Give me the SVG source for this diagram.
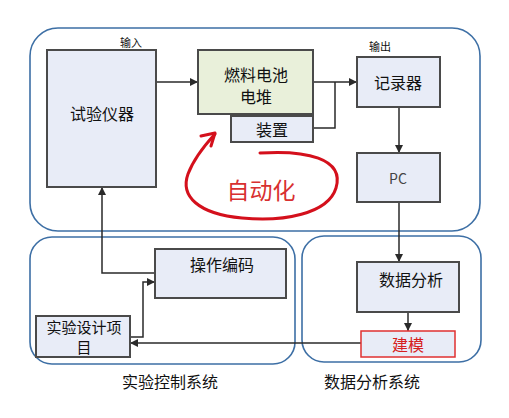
<svg xmlns="http://www.w3.org/2000/svg" width="509" height="418" viewBox="0 0 509 418">
<defs>
<style>
.cont{fill:none;stroke:#3d6fa5;stroke-width:1.6}
.box{fill:#e8ecf7;stroke:#4a4a4a;stroke-width:2}
.t{font-family:"Noto Sans CJK SC","Liberation Sans",sans-serif;fill:#111;text-anchor:middle;dominant-baseline:central}
.c{fill:none;stroke:#2a2a2a;stroke-width:1.5}
</style>
<marker id="ah" viewBox="0 0 10 10" refX="10" refY="5" markerWidth="8" markerHeight="8" markerUnits="userSpaceOnUse" orient="auto">
<path d="M0,0 L10,5 L0,10 z" fill="#2a2a2a"/>
</marker>
</defs>
<rect width="509" height="418" fill="#fff"/>
<g id="containers">
<rect id="top-system" class="cont" x="30" y="28" width="450" height="203" rx="28"/>
<rect id="control-system" class="cont" x="30" y="237" width="265" height="127" rx="22"/>
<rect id="analysis-system" class="cont" x="302" y="236" width="179" height="126" rx="22"/>
</g>
<g id="connectors">
<line class="c" x1="156" y1="82" x2="198" y2="82" marker-end="url(#ah)"/>
<line class="c" x1="313" y1="82" x2="357" y2="82" marker-end="url(#ah)"/>
<polyline class="c" points="313,128 335,128 335,82"/>
<line class="c" x1="399" y1="107" x2="399" y2="153" marker-end="url(#ah)"/>
<line class="c" x1="399" y1="202" x2="399" y2="262" marker-end="url(#ah)"/>
<line class="c" x1="408" y1="312" x2="408" y2="331" stroke-width="2.5" marker-end="url(#ah)"/>
<polyline class="c" points="155,273 102,273 102,187" marker-end="url(#ah)"/>
<polyline class="c" points="130,337 143,337 143,282 155,282" marker-end="url(#ah)"/>
<line class="c" x1="361" y1="343" x2="130" y2="343" stroke-width="2" marker-end="url(#ah)"/>
</g>
<g id="instrument"><rect class="box" x="47" y="50" width="109" height="137"/><text class="t" x="102" y="113" font-size="16">试验仪器</text></g>
<g id="fuelcell"><rect class="box" x="198" y="50" width="115" height="64" style="fill:#e9f0da"/><text class="t" x="256" y="74" font-size="16">燃料电池</text><text class="t" x="256" y="96" font-size="16">电堆</text></g>
<g id="device"><rect class="box" x="231" y="116" width="82" height="26"/><text class="t" x="272" y="129" font-size="16">装置</text></g>
<g id="recorder"><rect class="box" x="357" y="57" width="83" height="50"/><text class="t" x="398" y="82" font-size="16">记录器</text></g>
<g id="pc"><rect class="box" x="357" y="153" width="83" height="49"/><text class="t" x="398" y="178" font-size="14" style="fill:#444">PC</text></g>
<g id="analysis"><rect class="box" x="357" y="262" width="102" height="50"/><text class="t" x="411" y="279" font-size="16">数据分析</text></g>
<g id="modeling"><rect class="box" x="361" y="331" width="94" height="26" style="stroke:#e03030;stroke-width:1.5"/><text class="t" x="408" y="344" font-size="16" style="fill:#d62020">建模</text></g>
<g id="opcode"><rect class="box" x="155" y="249" width="131" height="49"/><text class="t" x="222" y="264" font-size="16">操作编码</text></g>
<g id="design"><rect class="box" x="36" y="316" width="94" height="41"/><text class="t" x="84" y="326" font-size="15">实验设计项</text><text class="t" x="84" y="346" font-size="15">目</text></g>
<g id="labels">
<text class="t" x="131" y="42" font-size="11">输入</text>
<text class="t" x="380" y="46" font-size="11">输出</text>
<text class="t" x="170" y="381" font-size="16">实验控制系统</text>
<text class="t" x="372" y="381" font-size="16">数据分析系统</text>
</g>
<g id="automation">
<path d="M260,153 C305,150 345,158 336,188 C328,214 283,222 242,218 C198,214 180,196 188,174 C194,158 204,146 215,134" fill="none" stroke="#d4101c" stroke-width="3" stroke-linecap="round"/>
<polyline points="201,136 215,133 211,146" fill="none" stroke="#d4101c" stroke-width="3" stroke-linecap="round" stroke-linejoin="round"/>
<text class="t" x="261" y="189" font-size="23" style="fill:#d83030">自动化</text>
</g>
</svg>
